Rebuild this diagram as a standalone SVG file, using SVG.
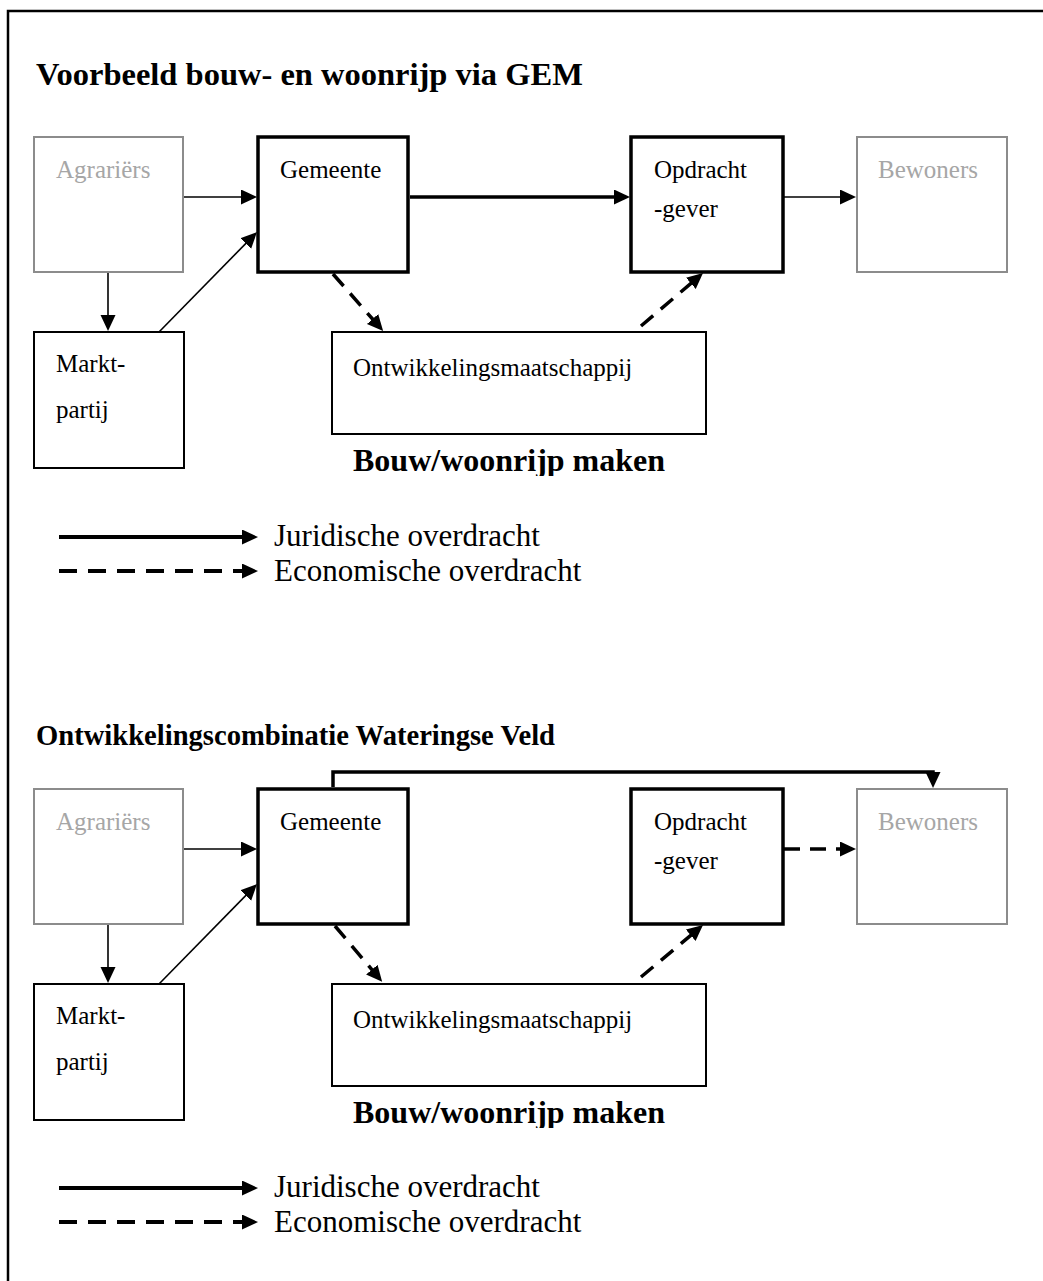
<svg xmlns="http://www.w3.org/2000/svg" width="1043" height="1281" viewBox="0 0 1043 1281">
  <style>
    .box { fill: #ffffff; stroke: #000000; stroke-width: 2; }
    .thick { fill: #ffffff; stroke: #000000; stroke-width: 3.5; }
    .grey { fill: #ffffff; stroke: #8c8c8c; stroke-width: 2; }
    .lbl { font-family: "Liberation Serif", "Times New Roman", serif; font-size: 25px; fill: #000000; }
    .glbl { font-family: "Liberation Serif", "Times New Roman", serif; font-size: 25px; fill: #a6a6a6; }
    .title { font-family: "Liberation Serif", "Times New Roman", serif; font-weight: bold; fill: #000000; }
    .leg { font-family: "Liberation Serif", "Times New Roman", serif; font-size: 31px; fill: #000000; }
    .thin { fill: none; stroke: #000000; stroke-width: 1.6; marker-end: url(#ah); }
    .bold { fill: none; stroke: #000000; stroke-width: 3.5; marker-end: url(#ah); }
    .dash { fill: none; stroke: #000000; stroke-width: 3.5; stroke-dasharray: 16 10; marker-end: url(#ah); }
    .legsolid { fill: none; stroke: #000000; stroke-width: 4; marker-end: url(#ah); }
    .legdash { fill: none; stroke: #000000; stroke-width: 4; stroke-dasharray: 18 11; marker-end: url(#ah); }
  </style>
  <defs>
    <marker id="ah" markerUnits="userSpaceOnUse" markerWidth="17" markerHeight="16" refX="4" refY="7.5" orient="auto">
      <path d="M0,0 L16,7.5 L0,15 z" fill="#000000"/>
    </marker>
    <clipPath id="clip1"><rect x="300" y="430" width="420" height="46"/></clipPath>
    <clipPath id="clip2"><rect x="300" y="1082" width="420" height="46"/></clipPath>
  </defs>

  <path d="M8,1300 V11 H1060" fill="none" stroke="#000000" stroke-width="2.5"/>

  <!-- Top diagram -->
  <text class="title" x="36" y="85" font-size="32.5">Voorbeeld bouw- en woonrijp via GEM</text>

  <g id="top-agrariers">
    <rect class="grey" x="34" y="137" width="149" height="135"/>
    <text class="glbl" x="56" y="178">Agrariërs</text>
  </g>
  <g id="top-gemeente">
    <rect class="thick" x="258" y="137" width="150" height="135"/>
    <text class="lbl" x="280" y="178">Gemeente</text>
  </g>
  <g id="top-opdrachtgever">
    <rect class="thick" x="631" y="137" width="152" height="135"/>
    <text class="lbl" x="654" y="178">Opdracht</text>
    <text class="lbl" x="654" y="217">-gever</text>
  </g>
  <g id="top-bewoners">
    <rect class="grey" x="857" y="137" width="150" height="135"/>
    <text class="glbl" x="878" y="178">Bewoners</text>
  </g>
  <g id="top-marktpartij">
    <rect class="box" x="34" y="332" width="150" height="136"/>
    <text class="lbl" x="56" y="372">Markt-</text>
    <text class="lbl" x="56" y="418">partij</text>
  </g>
  <g id="top-ontwikkelingsmaatschappij">
    <rect class="box" x="332" y="332" width="374" height="102"/>
    <text class="lbl" x="353" y="376">Ontwikkelingsmaatschappij</text>
  </g>
  <text class="title" x="353" y="471" font-size="32" clip-path="url(#clip1)">Bouw/woonrijp maken</text>

  <g id="top-connectors">
    <line class="thin" x1="184" y1="197" x2="245" y2="197"/>
    <line class="thin" x1="108" y1="273" x2="108" y2="319"/>
    <line class="thin" x1="159" y1="332" x2="248.6" y2="240.6"/>
    <line class="bold" x1="410" y1="197" x2="618" y2="197"/>
    <line class="thin" x1="784" y1="197" x2="844" y2="197"/>
    <line class="dash" x1="333" y1="274" x2="375.2" y2="322"/>
    <line class="dash" x1="641" y1="326" x2="693.9" y2="280.8"/>
  </g>

  <g id="top-legend">
    <line class="legsolid" x1="59" y1="537" x2="246" y2="537"/>
    <line class="legdash" x1="59" y1="571" x2="246" y2="571"/>
    <text class="leg" x="274" y="546">Juridische overdracht</text>
    <text class="leg" x="274" y="581">Economische overdracht</text>
  </g>

  <!-- Bottom diagram -->
  <text class="title" x="36" y="745" font-size="28.6">Ontwikkelingscombinatie Wateringse Veld</text>

  <g id="bottom-agrariers">
    <rect class="grey" x="34" y="789" width="149" height="135"/>
    <text class="glbl" x="56" y="830">Agrariërs</text>
  </g>
  <g id="bottom-gemeente">
    <rect class="thick" x="258" y="789" width="150" height="135"/>
    <text class="lbl" x="280" y="830">Gemeente</text>
  </g>
  <g id="bottom-opdrachtgever">
    <rect class="thick" x="631" y="789" width="152" height="135"/>
    <text class="lbl" x="654" y="830">Opdracht</text>
    <text class="lbl" x="654" y="869">-gever</text>
  </g>
  <g id="bottom-bewoners">
    <rect class="grey" x="857" y="789" width="150" height="135"/>
    <text class="glbl" x="878" y="830">Bewoners</text>
  </g>
  <g id="bottom-marktpartij">
    <rect class="box" x="34" y="984" width="150" height="136"/>
    <text class="lbl" x="56" y="1024">Markt-</text>
    <text class="lbl" x="56" y="1070">partij</text>
  </g>
  <g id="bottom-ontwikkelingsmaatschappij">
    <rect class="box" x="332" y="984" width="374" height="102"/>
    <text class="lbl" x="353" y="1028">Ontwikkelingsmaatschappij</text>
  </g>
  <text class="title" x="353" y="1123" font-size="32" clip-path="url(#clip2)">Bouw/woonrijp maken</text>

  <g id="bottom-connectors">
    <line class="thin" x1="184" y1="849" x2="245" y2="849"/>
    <line class="thin" x1="108" y1="925" x2="108" y2="971"/>
    <line class="thin" x1="159" y1="984" x2="248.6" y2="892.6"/>
    <path class="bold" d="M333,787 V772 H933 V776"/>
    <line class="dash" x1="784" y1="849" x2="844" y2="849"/>
    <line class="dash" x1="335" y1="926" x2="374.4" y2="972.7"/>
    <line class="dash" x1="641" y1="977" x2="693.8" y2="932.8"/>
  </g>

  <g id="bottom-legend">
    <line class="legsolid" x1="59" y1="1188" x2="246" y2="1188"/>
    <line class="legdash" x1="59" y1="1222" x2="246" y2="1222"/>
    <text class="leg" x="274" y="1197">Juridische overdracht</text>
    <text class="leg" x="274" y="1232">Economische overdracht</text>
  </g>
</svg>
